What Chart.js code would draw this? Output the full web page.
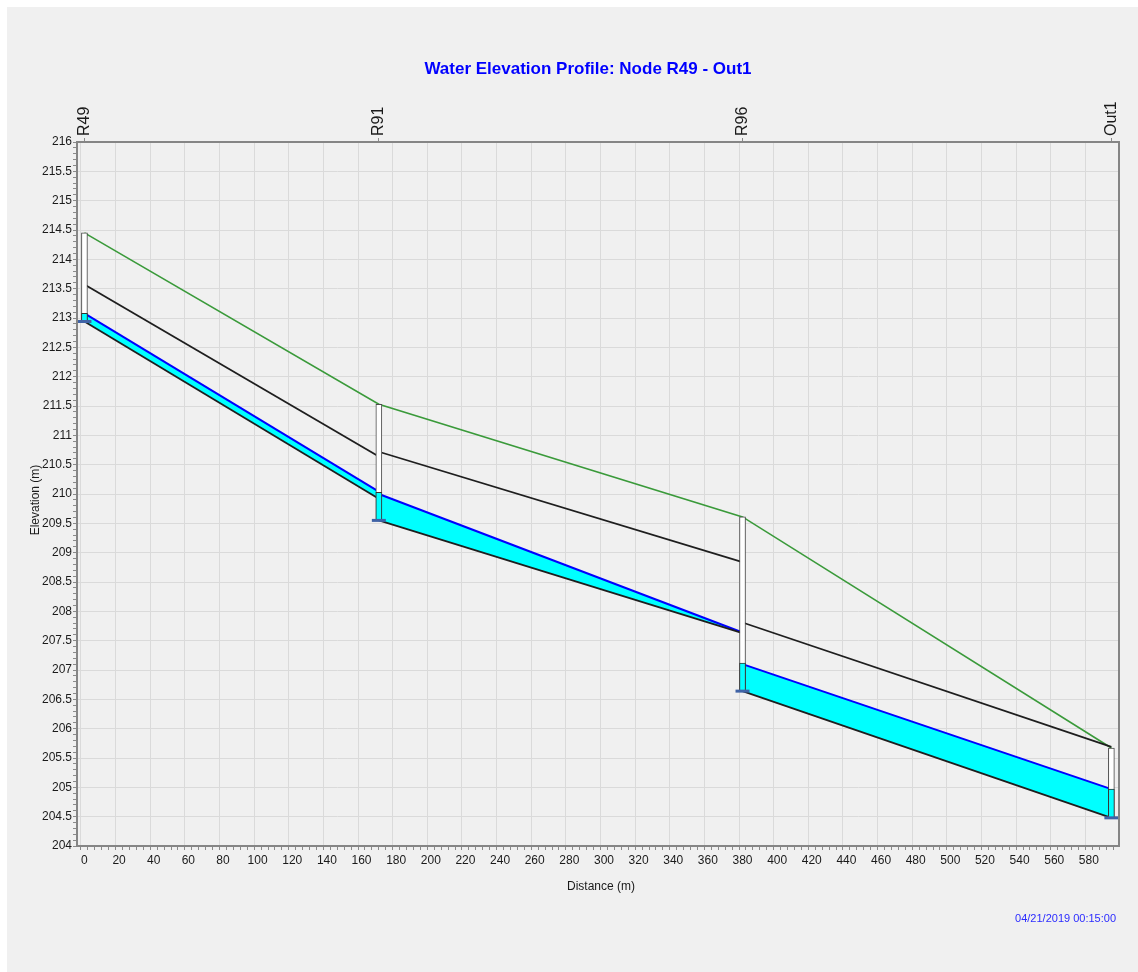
<!DOCTYPE html>
<html>
<head>
<meta charset="utf-8">
<script src="https://cdn.jsdelivr.net/npm/chart.js@4.4.0/dist/chart.umd.min.js"></script>
<style>
html, body { margin: 0; padding: 0; background: #fff; }
#wrap { position: absolute; left: 7px; top: 7px; width: 1131px; height: 965px; background: #f0f0f0; }
</style>
</head>
<body>
<div id="wrap"><canvas id="profile" width="1131" height="965"></canvas></div>
<script>
// nodes along the profile
const nodeNames = ['R49', 'R91', 'R96', 'Out1'];
const nodeDist = [0, 170, 380, 593];
const nodeGround = [214.45, 211.53, 209.61, 205.67];
const nodeInvert = [212.94, 209.55, 206.64, 204.48];
const nodeWater = [213.08, 210.03, 207.12, 204.97];

// conduits between consecutive nodes, [upstream, downstream]
const linkInvert = [[212.94, 209.92], [209.55, 207.63], [206.64, 204.48]];
const linkCrown = [[213.57, 210.64], [210.72, 208.84], [207.81, 205.69]];
const linkWater = [[213.08, 210.04], [210.00, 207.64], [207.10, 204.97]];

const xMin = -4.3, xMax = 597.4;
const yMin = 204, yMax = 216;

const titleText = 'Water Elevation Profile: Node R49 - Out1';
const dateText = '04/21/2019 00:15:00';

// tick positions: minor every 4 m / 0.1 m, labels on the major ones
let xTickVals = [];
for (let v = 0; v <= 596; v += 4) xTickVals.push(v);
let yTickVals = [];
for (let k = 2040; k <= 2160; k++) yTickVals.push(k / 10);

const fam = "'Liberation Sans', Arial, sans-serif";
const tickFont = { family: fam, size: 12 };

function seg(k, arr) {
    return [{ x: nodeDist[k], y: arr[k][0] }, { x: nodeDist[k + 1], y: arr[k][1] }];
}

let datasets = [];
for (let k = 0; k < linkInvert.length; k++) {
    let invIdx = datasets.length;
    datasets.push({
        type: 'line', data: seg(k, linkInvert), borderColor: '#1e1e1e', borderWidth: 1.8,
        pointRadius: 0, fill: false, order: 2
    });
    datasets.push({
        type: 'line', data: seg(k, linkWater), borderColor: '#0000ff', borderWidth: 2,
        backgroundColor: '#00ffff', pointRadius: 0, fill: invIdx, order: 3
    });
    datasets.push({
        type: 'line', data: seg(k, linkCrown), borderColor: '#1e1e1e', borderWidth: 1.8,
        pointRadius: 0, fill: false, order: 2
    });
}
// ground surface
datasets.push({
    type: 'line', data: nodeDist.map((d, i) => ({ x: d, y: nodeGround[i] })),
    borderColor: '#3a9a3a', borderWidth: 1.6, pointRadius: 0, fill: false, order: 2
});
// node manholes
datasets.push({
    type: 'bar', data: nodeDist.map((d, i) => ({ x: d, y: [nodeInvert[i], nodeGround[i]] })),
    backgroundColor: '#ffffff', borderColor: '#4a4a4a', borderWidth: 1, borderSkipped: false,
    barThickness: 6, grouped: false, order: 1
});
datasets.push({
    type: 'bar', data: nodeDist.map((d, i) => ({ x: d, y: [nodeInvert[i], nodeWater[i]] })),
    backgroundColor: '#00ffff', borderColor: '#333333', borderWidth: 1, borderSkipped: false,
    barThickness: 6, grouped: false, order: 0
});
// invert markers
datasets.push({
    type: 'line', data: nodeDist.map((d, i) => ({ x: d, y: nodeInvert[i] })), showLine: false,
    pointStyle: 'line', pointRadius: 7, pointBorderWidth: 3, pointBorderColor: '#4063a6',
    order: -1
});

const textPlugin = {
    id: 'texts',
    afterDraw(chart) {
        const ctx = chart.ctx;
        const a = chart.chartArea;
        ctx.save();
        // plot frame
        ctx.strokeStyle = '#858585';
        ctx.lineWidth = 2;
        ctx.strokeRect(a.left, a.top, a.right - a.left, a.bottom - a.top);
        ctx.textBaseline = 'middle';
        ctx.fillStyle = '#0000ff';
        ctx.font = 'bold 17px ' + fam;
        ctx.textAlign = 'center';
        ctx.fillText(titleText, 581, 62);
        ctx.fillStyle = '#1a1a1a';
        ctx.font = '12px ' + fam;
        ctx.fillText('Distance (m)', 594, 880);
        ctx.save();
        ctx.translate(29, 493);
        ctx.rotate(-Math.PI / 2);
        ctx.fillText('Elevation (m)', 0, 0);
        ctx.restore();
        ctx.fillStyle = '#2b2bff';
        ctx.font = '11px ' + fam;
        ctx.textAlign = 'right';
        ctx.fillText(dateText, 1109, 912);
        ctx.restore();
    }
};

new Chart(document.getElementById('profile'), {
    type: 'line',
    data: { datasets: datasets },
    options: {
        responsive: false,
        animation: false,
        layout: { padding: { left: 0, top: 0, right: 19, bottom: 0 } },
        plugins: { legend: { display: false }, tooltip: { enabled: false } },
        scales: {
            x: {
                type: 'linear', position: 'bottom', min: xMin, max: xMax, offset: false,
                afterBuildTicks: s => { s.ticks = xTickVals.map(v => ({ value: v })); },
                afterFit: s => { s.height = 126; },
                border: { display: false },
                grid: {
                    color: c => (c.tick && c.tick.value % 20 === 0) ? '#dadada' : 'rgba(0,0,0,0)',
                    tickColor: '#8a8a8a', tickLength: 4, lineWidth: 1
                },
                ticks: {
                    autoSkip: false, maxRotation: 0, minRotation: 0, padding: 3,
                    font: tickFont, color: '#1a1a1a',
                    callback: v => (v % 20 === 0) ? String(v) : ''
                }
            },
            x2: {
                type: 'linear', position: 'top', min: xMin, max: xMax, offset: false,
                afterBuildTicks: s => { s.ticks = nodeDist.map(v => ({ value: v })); },
                afterFit: s => { s.height = 135; },
                border: { display: false },
                grid: { drawOnChartArea: false, tickColor: '#8a8a8a', tickLength: 4 },
                ticks: {
                    autoSkip: false, maxRotation: 90, minRotation: 90, padding: 2,
                    labelOffset: 19,
                    font: { family: fam, size: 16 }, color: '#1a1a1a',
                    callback: (v, i) => nodeNames[i]
                }
            },
            y: {
                type: 'linear', position: 'left', min: yMin, max: yMax,
                afterBuildTicks: s => { s.ticks = yTickVals.map(v => ({ value: v })); },
                afterFit: s => { s.width = 70; },
                border: { display: false },
                grid: {
                    color: c => (c.tick && Math.round(c.tick.value * 10) % 5 === 0) ? '#dadada' : 'rgba(0,0,0,0)',
                    tickColor: '#8a8a8a', tickLength: 4, lineWidth: 1
                },
                ticks: {
                    autoSkip: false, padding: 1, font: tickFont, color: '#1a1a1a',
                    callback: v => (Math.round(v * 10) % 5 === 0) ? String(Math.round(v * 10) / 10) : ''
                }
            }
        }
    },
    plugins: [textPlugin]
});
</script>
</body>
</html>
